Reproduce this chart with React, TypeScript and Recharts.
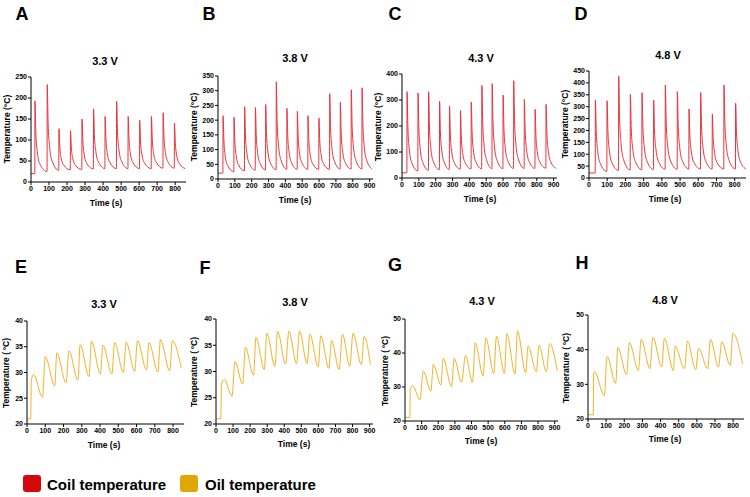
import React from "react";
import { Line, LineChart, XAxis, YAxis } from "recharts";

type Pt = [number, number];

// [time (s), temperature (°C)]
const coil33: Pt[] = [
  [0, 20], [21, 20], [22, 193], [27, 117], [35, 72], [49, 43],
  [89, 25], [90, 232], [95, 140], [103, 85], [117, 50],
  [154, 28], [155, 127], [160, 83], [168, 56], [182, 40],
  [218, 29], [219, 122], [224, 81], [232, 56], [246, 40],
  [282, 30], [283, 150], [288, 96], [296, 64], [310, 44],
  [346, 31], [347, 174], [352, 110], [360, 72], [374, 48],
  [410, 32], [411, 156], [416, 100], [424, 67], [438, 46],
  [474, 32], [475, 192], [480, 120], [488, 77], [502, 50],
  [538, 32], [539, 156], [544, 100], [552, 67], [566, 46],
  [602, 32], [603, 147], [608, 95], [616, 64], [630, 45],
  [667, 32], [668, 156], [673, 101], [681, 67], [695, 47],
  [732, 33], [733, 165], [738, 106], [746, 70], [760, 48],
  [795, 33], [796, 140], [801, 91], [809, 62], [823, 44],
  [855, 32],
];

const coil38: Pt[] = [
  [0, 20], [29, 20], [30, 215], [35, 130], [43, 78], [57, 46],
  [94, 25], [95, 210], [100, 128], [108, 79], [122, 48],
  [157, 28], [158, 246], [163, 149], [171, 90], [185, 54],
  [221, 30], [222, 243], [227, 148], [235, 90], [249, 54],
  [282, 31], [283, 253], [288, 154], [296, 94], [310, 56],
  [345, 32], [346, 330], [351, 196], [359, 116], [373, 66],
  [408, 33], [409, 240], [414, 147], [422, 91], [436, 56],
  [470, 33], [471, 230], [476, 141], [484, 88], [498, 55],
  [533, 33], [534, 215], [539, 133], [547, 84], [561, 53],
  [598, 33], [599, 207], [604, 129], [612, 82], [626, 52],
  [662, 33], [663, 290], [668, 175], [676, 106], [690, 62],
  [725, 34], [726, 261], [731, 159], [739, 98], [753, 59],
  [790, 34], [791, 303], [796, 182], [804, 109], [818, 64],
  [854, 34], [855, 310], [860, 186], [868, 111], [882, 64],
  [915, 34],
];

const coil43: Pt[] = [
  [0, 20], [29, 20], [30, 332], [35, 195], [43, 112], [57, 61],
  [94, 27], [95, 327], [100, 193], [108, 113], [122, 63],
  [157, 30], [158, 332], [163, 197], [171, 116], [185, 65],
  [222, 32], [223, 295], [228, 177], [236, 106], [250, 62],
  [281, 33], [282, 277], [287, 168], [295, 102], [309, 61],
  [346, 34], [347, 260], [352, 159], [360, 98], [374, 60],
  [410, 35], [411, 292], [416, 176], [424, 107], [438, 63],
  [473, 35], [474, 356], [479, 212], [487, 126], [501, 71],
  [534, 36], [535, 363], [540, 216], [548, 128], [562, 72],
  [599, 36], [600, 319], [605, 192], [613, 116], [627, 68],
  [662, 37], [663, 374], [668, 222], [676, 131], [690, 74],
  [725, 37], [726, 302], [731, 183], [739, 111], [753, 66],
  [789, 37], [790, 264], [795, 162], [803, 101], [817, 63],
  [854, 38], [855, 283], [860, 172], [868, 106], [882, 64],
  [915, 37],
];

const coil48: Pt[] = [
  [0, 21], [34, 21], [35, 328], [40, 193], [48, 112], [62, 61],
  [98, 28], [99, 325], [104, 193], [112, 114], [126, 64],
  [162, 32], [163, 429], [168, 251], [176, 145], [190, 77],
  [226, 34], [227, 352], [232, 209], [240, 124], [254, 70],
  [290, 35], [291, 359], [296, 214], [304, 126], [318, 72],
  [354, 36], [355, 328], [360, 197], [368, 118], [382, 69],
  [418, 37], [419, 391], [424, 232], [432, 136], [446, 76],
  [484, 37], [485, 363], [490, 217], [498, 129], [512, 74],
  [548, 38], [549, 290], [554, 177], [562, 109], [576, 66],
  [612, 38], [613, 360], [618, 215], [626, 128], [640, 73],
  [676, 38], [677, 269], [682, 165], [690, 103], [704, 63],
  [740, 38], [741, 391], [746, 232], [754, 137], [768, 77],
  [804, 38], [805, 314], [810, 190], [818, 115], [832, 68],
  [862, 38],
];

const oil33: Pt[] = [
  [0, 21], [20, 21], [24, 28.5], [36, 29.6], [85, 25.2], [100, 33.1],
  [152, 27.4], [163, 33.8], [214, 28], [230, 34.2], [279, 28.5], [291, 35.4],
  [340, 29.2], [353, 36.1], [402, 29.7], [416, 35.3], [465, 29.7], [480, 35.8],
  [528, 30], [543, 35.9], [590, 30.2], [605, 36.2], [655, 30.5], [668, 35.8],
  [717, 30.1], [731, 36.4], [782, 30.3], [796, 36.2], [845, 30.8],
];

const oil38: Pt[] = [
  [0, 21], [28, 21], [32, 27.5], [49, 28.5], [94, 25.3], [111, 31.9],
  [156, 27.6], [172, 34.6], [220, 29.3], [234, 36.5], [283, 30.4], [298, 37.3],
  [345, 31], [361, 37.6], [408, 31.4], [427, 37.7], [472, 31.5], [489, 37.7],
  [534, 31.5], [550, 37.1], [599, 30.9], [614, 36.8], [661, 30.6], [677, 35.9],
  [722, 30.4], [741, 37.1], [784, 31], [803, 37.3], [852, 31.3], [868, 36.7],
  [905, 31.3],
];

const oil43: Pt[] = [
  [0, 21], [29, 21], [32, 29.5], [46, 30.4], [90, 26.2], [110, 34.7],
  [156, 28.8], [170, 36.6], [216, 30.6], [230, 38.4], [280, 30.1], [296, 38.4],
  [340, 31.4], [364, 39.3], [406, 31.4], [422, 43], [470, 33.2], [486, 44.4],
  [534, 34], [550, 44.9], [598, 34], [612, 45.7], [662, 33.8], [676, 46.4],
  [726, 34.2], [740, 42], [790, 34.5], [806, 42.3], [850, 34.5], [870, 42.8],
  [915, 34.8],
];

const oil48: Pt[] = [
  [0, 21.2], [29, 21.2], [31, 33], [35, 33.7], [90, 26.8], [105, 38],
  [153, 30.3], [164, 40.6], [213, 32.8], [228, 42], [278, 34], [293, 43],
  [342, 34.5], [357, 43.6], [407, 35], [421, 43.3], [471, 34], [480, 41],
  [532, 34.5], [548, 42.5], [594, 34.2], [609, 40.4], [660, 34.5], [675, 43],
  [719, 35], [738, 42.3], [784, 35.5], [799, 44.8], [852, 36],
];

const ticks800 = [0, 100, 200, 300, 400, 500, 600, 700, 800];
const ticks900 = [0, 100, 200, 300, 400, 500, 600, 700, 800, 900];
const yTicks250 = [0, 50, 100, 150, 200, 250];
const yTicks350 = [0, 50, 100, 150, 200, 250, 300, 350];
const yTicks400 = [0, 100, 200, 300, 400];
const yTicks450 = [0, 50, 100, 150, 200, 250, 300, 350, 400, 450];
const yTicks40 = [20, 25, 30, 35, 40];
const yTicks50 = [20, 30, 40, 50];

const voltages = ["3.3 V", "3.8 V", "4.3 V", "4.8 V"];
const letters = ["A", "B", "C", "D", "E", "F", "G", "H"];

const COIL = "#e8323c";
const OIL = "#f2b224";
const FONT = '"Liberation Sans", Arial, sans-serif';

const YW = 30;
const MT = 8;
const MR = 8;
const XH = 14;

const tickStyle = { fontSize: 7, fontWeight: 700, fill: "#000" };
const axisStyle = { stroke: "#000", strokeWidth: 1 };

type PanelProps = {
  pts: Pt[];
  color: string;
  left: number;
  top: number;
  w: number;
  h: number;
  xMax: number;
  xTicks: number[];
  yDomain: [number, number];
  yTicks: number[];
};

function Panel({ pts, color, left, top, w, h, xMax, xTicks, yDomain, yTicks }: PanelProps) {
  const data = pts.map(([t, v]) => ({ t, v }));
  return (
    <div style={{ position: "absolute", left: left - YW, top: top - MT }}>
      <LineChart
        width={w + YW + MR}
        height={h + MT + XH}
        data={data}
        margin={{ top: MT, right: MR, bottom: 0, left: 0 }}
      >
        <XAxis
          dataKey="t"
          type="number"
          domain={[0, xMax]}
          ticks={xTicks}
          interval={0}
          height={XH}
          tickSize={3}
          tickMargin={1}
          tick={tickStyle}
          axisLine={axisStyle}
          tickLine={axisStyle}
        />
        <YAxis
          type="number"
          domain={yDomain}
          ticks={yTicks}
          interval={0}
          width={YW}
          tickSize={3}
          tickMargin={1}
          tick={tickStyle}
          axisLine={axisStyle}
          tickLine={axisStyle}
        />
        <Line
          type="monotone"
          dataKey="v"
          stroke={color}
          strokeWidth={1}
          dot={false}
          isAnimationActive={false}
        />
      </LineChart>
    </div>
  );
}

function Txt({ x, y, size, rotate, children }: { x: number; y: number; size: number; rotate?: boolean; children: React.ReactNode }) {
  return (
    <div
      style={{
        position: "absolute",
        left: x,
        top: y,
        fontSize: size,
        fontWeight: 700,
        lineHeight: 1,
        whiteSpace: "nowrap",
        transform: `translate(-50%, -50%)${rotate ? " rotate(-90deg)" : ""}`,
      }}
    >
      {children}
    </div>
  );
}

const panels: (PanelProps & { letter: [number, number]; title: [number, number]; yLab: [number, number]; xLab: [number, number] })[] = [
  { pts: coil33, color: COIL, left: 31, top: 77, w: 155, h: 105, xMax: 860, xTicks: ticks800, yDomain: [0, 250], yTicks: yTicks250, letter: [22, 14], title: [105, 61], yLab: [7, 129], xLab: [106, 203] },
  { pts: coil38, color: COIL, left: 218, top: 76, w: 155, h: 103, xMax: 920, xTicks: ticks900, yDomain: [0, 350], yTicks: yTicks350, letter: [209, 14], title: [295, 58], yLab: [194, 127], xLab: [295, 200] },
  { pts: coil43, color: COIL, left: 402, top: 74, w: 155, h: 104, xMax: 920, xTicks: ticks900, yDomain: [0, 400], yTicks: yTicks400, letter: [395, 14], title: [481, 58], yLab: [378, 127], xLab: [480, 199] },
  { pts: coil48, color: COIL, left: 589, top: 71, w: 157, h: 107, xMax: 860, xTicks: ticks800, yDomain: [0, 450], yTicks: yTicks450, letter: [581, 14], title: [668, 55], yLab: [565, 124], xLab: [665, 199] },
  { pts: oil33, color: OIL, left: 27, top: 321, w: 157, h: 103, xMax: 860, xTicks: ticks800, yDomain: [20, 40], yTicks: yTicks40, letter: [21, 267], title: [104, 304], yLab: [6, 373], xLab: [104, 445] },
  { pts: oil38, color: OIL, left: 216, top: 319, w: 157, h: 105, xMax: 920, xTicks: ticks900, yDomain: [20, 40], yTicks: yTicks40, letter: [205, 268], title: [295, 302], yLab: [194, 372], xLab: [294, 444] },
  { pts: oil43, color: OIL, left: 405, top: 319, w: 153, h: 102, xMax: 920, xTicks: ticks900, yDomain: [20, 50], yTicks: yTicks50, letter: [395, 265], title: [482, 301], yLab: [385, 371], xLab: [481, 441] },
  { pts: oil48, color: OIL, left: 588, top: 315, w: 156, h: 104, xMax: 860, xTicks: ticks800, yDomain: [20, 50], yTicks: yTicks50, letter: [582, 263], title: [665, 300], yLab: [566, 368], xLab: [665, 439] },
];

export default function App() {
  return (
    <div
      style={{
        position: "absolute",
        left: 0,
        top: 0,
        width: 750,
        height: 497,
        background: "#fff",
        color: "#000",
        fontFamily: FONT,
        overflow: "hidden",
      }}
    >
      {panels.map((p, i) => (
        <React.Fragment key={i}>
          <Panel {...p} />
          <Txt x={p.letter[0]} y={p.letter[1]} size={18}>{letters[i]}</Txt>
          <Txt x={p.title[0]} y={p.title[1]} size={11}>{voltages[i % 4]}</Txt>
          <Txt x={p.yLab[0]} y={p.yLab[1]} size={8.5} rotate>
            {i < 4 ? "Temperature (°C)" : "Temperature (\u2009°C)"}
          </Txt>
          <Txt x={p.xLab[0]} y={p.xLab[1]} size={8.5}>Time (s)</Txt>
        </React.Fragment>
      ))}
      <div style={{ position: "absolute", left: 23, top: 475, width: 18, height: 17, borderRadius: 3, background: "#d40a0a" }} />
      <div style={{ position: "absolute", left: 47, top: 477, fontSize: 15, fontWeight: 700, lineHeight: 1 }}>Coil temperature</div>
      <div style={{ position: "absolute", left: 180, top: 475, width: 18, height: 17, borderRadius: 3, background: "#e0a700" }} />
      <div style={{ position: "absolute", left: 205, top: 477, fontSize: 15, fontWeight: 700, lineHeight: 1 }}>Oil temperature</div>
    </div>
  );
}
